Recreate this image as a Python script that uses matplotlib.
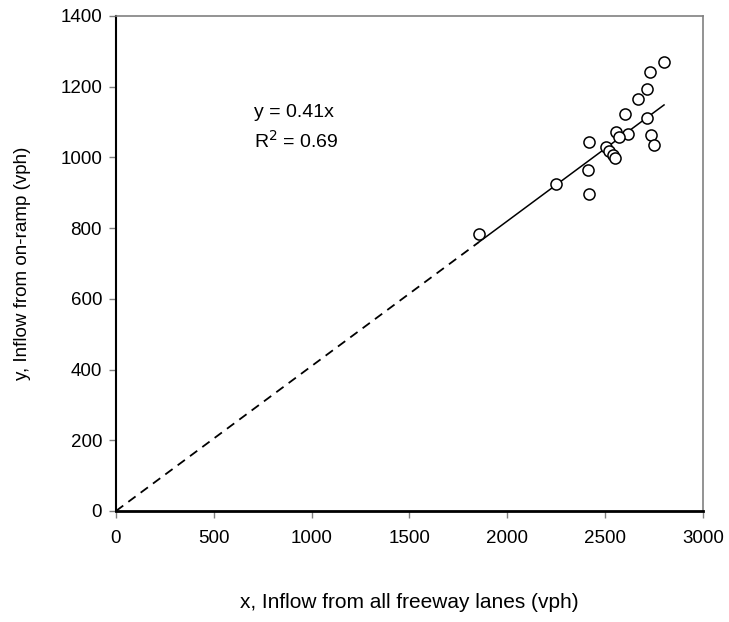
import matplotlib
matplotlib.use("Agg")
import matplotlib.pyplot as plt
import numpy as np

plt.rcParams['font.family'] = ['Liberation Sans', 'DejaVu Sans']

# freeway inflow (x) vs on-ramp inflow (y), vph
x = [2801, 2728, 2714, 2669, 2600, 2714, 2557, 2615, 2571, 2736,
     2750, 2419, 2504, 2521, 2542, 2549, 2414, 2247, 2419, 1854]
y = [1269, 1241, 1194, 1165, 1123, 1111, 1071, 1066, 1057, 1062,
     1035, 1043, 1030, 1018, 1007, 999, 964, 924, 897, 782]
slope = 0.41

x = np.array(x)
y = np.array(y)

fig = plt.figure(figsize=(7.29, 6.22), dpi=100)
ax = fig.add_axes([0.1591, 0.1785, 0.8052, 0.7958])

# trend line: solid over the data range, dashed back to the origin
x_lo, x_hi = x.min(), x.max()
ax.plot([0, x_lo], [0, slope * x_lo], color='black', lw=1.3,
        linestyle=(0, (5, 3.5)))
ax.plot([x_lo, x_hi], [slope * x_lo, slope * x_hi], color='black', lw=1.1)

ax.plot(x, y, 'o', mfc='white', mec='black', ms=8, mew=1.1)

ax.text(705, 1126, "y = 0.41x", fontsize=14, va='center')
ax.text(705, 1046, "R$^2$ = 0.69", fontsize=14, va='center')

ax.set_xlim(0, 3000)
ax.set_ylim(0, 1400)
ax.set_xticks(np.arange(0, 3001, 500))
ax.set_yticks(np.arange(0, 1401, 200))

ax.set_xlabel("x, Inflow from all freeway lanes (vph)", fontsize=15, labelpad=33)
ax.set_ylabel("y, Inflow from on-ramp (vph)", fontsize=13.5, labelpad=21)

ax.tick_params(direction='out', length=5, width=1, color='#808080',
               labelsize=13.5)
ax.tick_params(axis='x', pad=9)
ax.tick_params(axis='y', pad=5)
ax.spines['left'].set_linewidth(1.5)
ax.spines['bottom'].set_linewidth(2)
for s in ['top', 'right']:
    ax.spines[s].set_color('#808080')
    ax.spines[s].set_linewidth(1.2)

fig.savefig("out.png", dpi=100)
